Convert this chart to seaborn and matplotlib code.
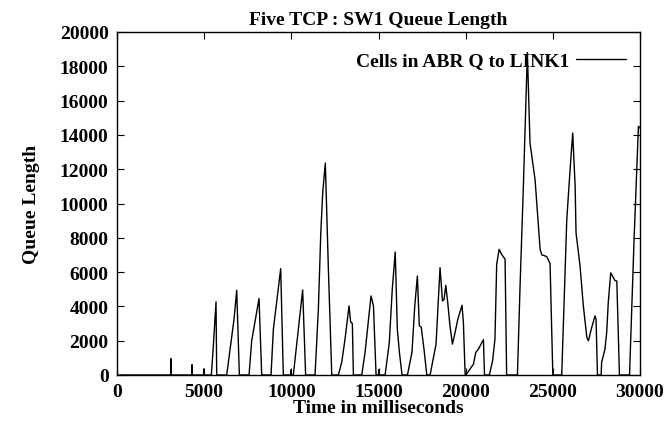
import matplotlib
matplotlib.use("Agg")
import matplotlib.pyplot as plt
import seaborn as sns
import pandas as pd

title = "Five TCP : SW1 Queue Length"
xlabel = "Time in milliseconds"
ylabel = "Queue Length"
series_label = "Cells in ABR Q to LINK1"

time_ms = [0, 3090, 3098, 3106, 4295, 4303, 4311, 4966, 4974, 4982,
           5412, 5527, 5680, 5720, 6293, 6712, 6867, 7018, 7573, 7727,
           8147, 8300, 8835, 8970, 9390, 9540, 9975, 9983, 9991, 10115,
           10650, 10820, 11360, 11550, 11690, 11800, 11950, 12120, 12320, 12700,
           12890, 13080, 13310, 13400, 13500, 13560, 14040, 14230, 14570, 14710,
           14860, 15000, 15010, 15020, 15380, 15620, 15790, 15960, 16080, 16200,
           16350, 16660, 16920, 17080, 17230, 17340, 17450, 17610, 17770, 17960,
           18300, 18530, 18670, 18760, 18860, 18970, 19100, 19240, 19350, 19550,
           19790, 19870, 19970, 20010, 20450, 20580, 20730, 21020, 21080, 21360,
           21550, 21680, 21780, 21920, 22060, 22260, 22350, 22970, 23120, 23310,
           23540, 23690, 23980, 24270, 24370, 24460, 24650, 24840, 25000, 25510,
           25800, 25990, 26140, 26280, 26330, 26560, 26750, 26950, 27040, 27230,
           27420, 27480, 27560, 27770, 27800, 27990, 28090, 28180, 28320, 28470,
           28570, 28670, 28820, 29400, 29530, 29660, 29910, 30000]
queue = [0, 0, 950, 0, 0, 600, 0, 0, 350, 0,
         0, 1700, 4260, 0, 0, 3250, 4940, 0, 0, 2000,
         4460, 0, 0, 2670, 6200, 0, 0, 300, 0, 0,
         4960, 0, 0, 3830, 8300, 10620, 12360, 6350, 0, 0,
         740, 2090, 4030, 3100, 3000, 0, 0, 1320, 4610, 4030,
         0, 0, 300, 0, 0, 1900, 5000, 7170, 2670, 1320,
         0, 0, 1320, 4030, 5770, 2870, 2800, 1510, 0, 0,
         1800, 6260, 4320, 4400, 5230, 4230, 2870, 1800, 2280, 3250,
         4070, 3060, 0, 0, 640, 1320, 1510, 2060, 0, 0,
         870, 2090, 6460, 7330, 7040, 6750, 0, 0, 5190, 11000,
         18800, 13530, 11400, 7330, 7000, 6980, 6900, 6510, 0, 0,
         9070, 11980, 14110, 11000, 8300, 6360, 4030, 2190, 2000, 2770,
         3450, 3250, 0, 0, 740, 1510, 2480, 4230, 5960, 5680,
         5500, 5480, 0, 0, 4030, 7910, 14500, 14400]

xticks = [0, 5000, 10000, 15000, 20000, 25000, 30000]
yticks = [0, 2000, 4000, 6000, 8000, 10000, 12000, 14000, 16000, 18000, 20000]

sns.set_style("ticks")
plt.rcParams["font.family"] = ["Liberation Serif", "DejaVu Serif"]
plt.rcParams["font.weight"] = "bold"
plt.rcParams["text.color"] = "black"
plt.rcParams["axes.labelcolor"] = "black"

df = pd.DataFrame({"t": time_ms, "q": queue})

fig = plt.figure(figsize=(6.66, 4.27), dpi=100)
ax = fig.add_axes([117 / 666, (427 - 376) / 427, (640 - 117) / 666, (376 - 33) / 427])
sns.lineplot(data=df, x="t", y="q", ax=ax, color="black", linewidth=1.0,
             sort=False, estimator=None, label=series_label)

ax.set_xlim(0, 30000)
ax.set_ylim(0, 20000)
ax.set_xticks(xticks)
ax.set_yticks(yticks)
ax.tick_params(direction="in", length=5, width=0.8, top=True, right=True,
               labelsize=14, pad=6, colors="black")
for lab in ax.get_xticklabels() + ax.get_yticklabels():
    lab.set_fontweight("bold")
for s in ax.spines.values():
    s.set_visible(True)
    s.set_color("black")
    s.set_linewidth(1.0)

ax.set_xlabel(xlabel, fontsize=14, fontweight="bold", labelpad=-1, color="black")
ax.set_ylabel(ylabel, fontsize=14, fontweight="bold", labelpad=14, color="black")
ax.set_title(title, fontsize=14, fontweight="bold", pad=6, color="black")

leg = ax.legend(loc="upper right", frameon=False, markerfirst=False,
                fontsize=14, handlelength=2.6, handletextpad=0.35, borderaxespad=0.3,
                bbox_to_anchor=(1.0, 0.982))
for txt in leg.get_texts():
    txt.set_fontweight("bold")
    txt.set_color("black")

fig.savefig("out.png", dpi=100)
